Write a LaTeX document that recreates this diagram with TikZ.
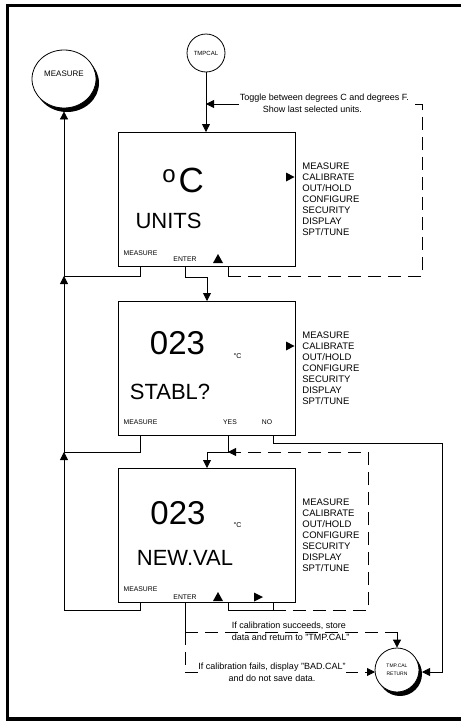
\documentclass[tikz,border=0pt]{standalone}
\usepackage{fontspec}
\setmainfont{Liberation Sans}
\usetikzlibrary{arrows.meta,shapes.geometric,shadows}

\begin{document}
\begin{tikzpicture}[x=1pt,y=-1pt,line width=0.8pt,
  arr/.style={-{Triangle[length=8pt,width=8pt]}},
  dashline/.style={dash pattern=on 13pt off 7pt},
  screen/.style={draw,rectangle,anchor=north west,minimum width=177pt,minimum height=133.5pt,inner sep=0pt},
  bubble/.style={draw,fill=white,ellipse,inner sep=0pt},
  castshadow/.style={drop shadow={shadow xshift=3pt,shadow yshift=-4pt,fill=black,opacity=1}},
  menulist/.style={anchor=north west,inner sep=0pt,align=left,font=\fontsize{9.5}{11}\selectfont},
  softkey/.style={inner sep=0pt,font=\fontsize{6.8}{7}\selectfont},
  bigdigits/.style={inner sep=0pt,font=\fontsize{33}{33}\selectfont},
  bigword/.style={inner sep=0pt,font=\fontsize{22}{22}\selectfont},
  unitsmall/.style={inner sep=0pt,font=\fontsize{7}{7}\selectfont},
  note/.style={inner sep=0.5pt,font=\fontsize{9}{12}\selectfont}]
\useasboundingbox (0,0) rectangle (461,723);

% page frame
\draw[line width=3.3pt] (461,5.7) -- (7.7,5.7) -- (7.7,719) -- (461,719);

% entry / exit bubbles
\node[bubble,castshadow,minimum width=64pt,minimum height=58pt] (measure) at (64,79) {};
\node[inner sep=0pt,font=\fontsize{8}{8}\selectfont] (measuretxt) at (64,74) {MEASURE};
\node[draw,circle,fill=white,minimum size=38pt,inner sep=0pt,font=\fontsize{6}{6}\selectfont] (tmpcal) at (206,53) {TMPCAL};
\node[bubble,castshadow,minimum width=44pt,minimum height=44pt,align=center,font=\fontsize{5}{7.5}\selectfont] (tmpret) at (397,670) {TMP.CAL\\RETURN};

% display screens
\node[screen] (scr1) at (118,132) {};
\node[screen] (scr2) at (118,301) {};
\node[screen,minimum height=134pt] (scr3) at (118,468) {};

% screen 1: units
\node[inner sep=0pt,anchor=base west,font=\fontsize{35}{35}\selectfont] (unit) at (162,192) {\raisebox{10pt}{\fontsize{24}{24}\selectfont o}\kern3pt C};
\node[bigword] (units) at (168.5,221) {UNITS};
\node[menulist] (menu1) at (302,162.6) {MEASURE\\CALIBRATE\\OUT/HOLD\\CONFIGURE\\SECURITY\\DISPLAY\\SPT/TUNE};
\node[softkey] (k1a) at (140.5,253) {MEASURE};
\node[softkey] (k1b) at (185,259) {ENTER};
\fill (286,172.5) -- (294.5,177) -- (286,181.5) -- cycle;
\fill (213,263) -- (223,263) -- (218,254) -- cycle;

% screen 2: stability check
\node[bigdigits] (val2) at (177.5,343.5) {023};
\node[unitsmall] (deg2) at (237.5,356) {°C};
\node[bigword] (stabl) at (170,392) {STABL?};
\node[menulist] (menu2) at (302,331.6) {MEASURE\\CALIBRATE\\OUT/HOLD\\CONFIGURE\\SECURITY\\DISPLAY\\SPT/TUNE};
\node[softkey] (k2a) at (140.5,422) {MEASURE};
\node[softkey] (k2b) at (230,422) {YES};
\node[softkey] (k2c) at (267,422) {NO};
\fill (286,341.5) -- (294.5,346) -- (286,350.5) -- cycle;

% screen 3: new value
\node[bigdigits] (val3) at (178,513) {023};
\node[unitsmall] (deg3) at (237.5,525) {°C};
\node[bigword] (newval) at (185,558) {NEW.VAL};
\node[menulist] (menu3) at (302,498.6) {MEASURE\\CALIBRATE\\OUT/HOLD\\CONFIGURE\\SECURITY\\DISPLAY\\SPT/TUNE};
\node[softkey] (k3a) at (140.5,589) {MEASURE};
\node[softkey] (k3b) at (185,597) {ENTER};
\fill (213,601) -- (223,601) -- (218,592) -- cycle;
\fill (254,592.5) -- (263,597) -- (254,601.5) -- cycle;

% return path to MEASURE
\coordinate (j1) at (64,276);
\coordinate (j2) at (64,452);
\coordinate (j3) at (64,610);
\draw ([xshift=22pt]scr1.south west) |- (j1);
\draw ([xshift=22pt]scr2.south west) |- (j2);
\draw ([xshift=22pt]scr3.south west) |- (j3);
\draw[arr] (j3) -- (j2);
\draw[arr] (j2) -- (j1);
\draw[arr] (j1) -- ([yshift=-3pt]measure.south);

% TMPCAL entry and unit toggle loop
\coordinate (tg) at (206,104);
\coordinate (d1) at (228,276);
\coordinate (d2) at (422,276);
\coordinate (d3) at (422,104);
\coordinate (d4) at (238,104);
\draw[arr] (tmpcal) -- (tmpcal |- scr1.north);
\draw ([xshift=110pt]scr1.south west) -- (d1);
\draw[dashline] (d1) -- (d2) -- (d3) -- (d4);
\draw[arr] (d4) -- (tg);

% ENTER on screen 1
\draw[arr] ([xshift=67pt]scr1.south west) -- ++(0,11) -| ([xshift=89pt]scr2.north west);

% YES on screen 2
\coordinate (yj) at (228,452);
\draw[arr] ([xshift=110pt]scr2.south west) -- (yj) -| ([xshift=89pt]scr3.north west);

% value adjust loop on screen 3
\coordinate (r1) at (228,610);
\coordinate (r2) at (273,610);
\coordinate (r3) at (368,610);
\coordinate (r4) at (368,452);
\draw ([xshift=110pt]scr3.south west) -- (r1) -- (r2);
\draw ([xshift=155pt]scr3.south west) -- (r2);
\draw[dashline,arr] (r2) -- (r3) -- (r4) -- (yj);

% NO on screen 2
\coordinate (n1) at (442,443);
\coordinate (n2) at (442,672);
\coordinate (n3) at (422,672);
\draw[arr] ([xshift=155pt]scr2.south west) |- (n1) -- (n2) -- (n3);

% ENTER on screen 3
\coordinate (e1) at (185,632);
\coordinate (e2) at (397,632);
\coordinate (e3) at (185,672);
\coordinate (e4) at (375,672);
\draw ([xshift=67pt]scr3.south west) -- (e1);
\draw[dashline] (e1) -- (e2);
\draw[arr] (e2) -- (tmpret.north);
\draw[dashline,arr] (e1) -- (e3) -- (e4);

% notes
\node[note,anchor=west,align=left,fill=white] (togtxt) at (239,103) {Toggle between degrees C and degrees F.\\\hspace*{23pt}Show last selected units.};
\node[note,anchor=west,align=left] (oktxt) at (231,631) {If calibration succeeds, store\\data and return to "TMP.CAL"};
\node[note,align=center,fill=white] (badtxt) at (272,672) {If calibration fails, display "BAD.CAL"\\and do not save data.};
\end{tikzpicture}
\end{document}
